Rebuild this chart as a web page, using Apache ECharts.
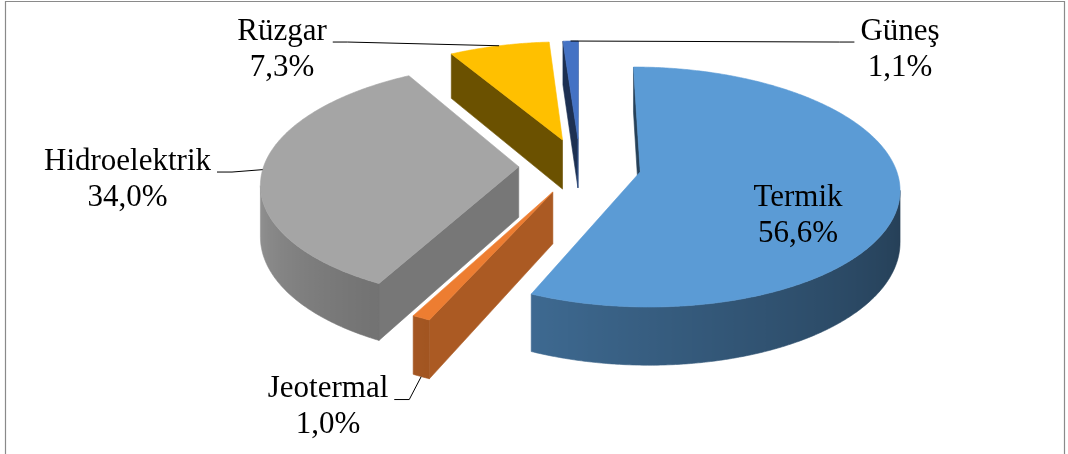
<!DOCTYPE html>
<html>
<head>
<meta charset="utf-8">
<script src="https://cdn.jsdelivr.net/npm/echarts@6/dist/echarts.min.js"></script>
<style>
html,body{margin:0;padding:0;background:#ffffff;}
#chart{width:1068px;height:454px;}
</style>
</head>
<body>
<div id="chart"></div>
<script>
// ---- data ----
const categories = ['Termik', 'Jeotermal', 'Hidroelektrik', 'Rüzgar', 'Güneş'];
const shares = [56.6, 1.0, 34.0, 7.3, 1.1];

// ---- styles / layout ----
const sliceColors = ['#5B9BD5', '#ED7D31', '#A5A5A5', '#FFC000', '#4472C4'];
const view = { cx: 580, cy: 166, rx: 255, ry: 116.6, persp: 0.126, explode: 0.24, depth: 50.5 };
const labelLayout = [
  { inside: true, x: 798, y: 216 },
  { x: 328, y: 407 },
  { x: 127.5, y: 179.5 },
  { x: 282, y: 49.5 },
  { x: 900, y: 49.5 }
];
const font = { family: '"Liberation Serif", "Times New Roman", serif', size: 31, lineHeight: 36 };

function fmtPct(v) { return v.toFixed(1).replace('.', ',') + '%'; }
function shade(hex, k) {
  const n = parseInt(hex.slice(1), 16);
  const r = (n >> 16) & 255, g = (n >> 8) & 255, b = n & 255;
  return 'rgb(' + Math.round(r * k) + ',' + Math.round(g * k) + ',' + Math.round(b * k) + ')';
}
function proj(u, v, h) {
  const f = 1 / (1 - view.persp * v);
  return [view.cx + view.rx * u * f, view.cy + (view.ry * v + h) * f];
}
function curvedShade(t) {
  let deg = (t * 180 / Math.PI) % 360; if (deg < 0) deg += 360;
  const s = Math.min(1, Math.max(0, (deg - 95) / 175));
  return 0.40 + 0.52 * Math.pow(s, 1.3);
}
const measureCtx = document.createElement('canvas').getContext('2d');
function textWidth(str) {
  measureCtx.font = font.size + 'px ' + font.family;
  return measureCtx.measureText(str).width;
}

// slice angles (clockwise from 12 o'clock) from the shares
const total = shares.reduce((a, b) => a + b, 0);
const geo = [];
let acc = 0;
shares.forEach(function (s) {
  const a0 = acc / total * 2 * Math.PI; acc += s;
  const a1 = acc / total * 2 * Math.PI;
  const mid = (a0 + a1) / 2;
  geo.push({ a0: a0, a1: a1, mid: mid, ou: view.explode * Math.sin(mid), ov: -view.explode * Math.cos(mid) });
});
const order = geo.map((g, i) => i).sort((a, b) => geo[a].ov - geo[b].ov);
const rank = []; order.forEach((idx, r) => { rank[idx] = r; });

function renderItem(params, api) {
  const i = params.dataIndex;
  const g = geo[i];
  const H = view.depth;
  const base = sliceColors[i];
  const z0 = rank[i] * 10;
  const rim = (t, h) => proj(g.ou + Math.sin(t), g.ov - Math.cos(t), h);
  const apex = (h) => proj(g.ou, g.ov, h);
  const children = [];

  // radial walls
  const inside = proj(g.ou + 0.5 * Math.sin(g.mid), g.ov - 0.5 * Math.cos(g.mid), 0);
  [[g.a0, -1], [g.a1, 1]].forEach(function (w) {
    const t = w[0], s = w[1];
    const A = apex(0), B = rim(t, 0), Bb = rim(t, H), Ab = apex(H);
    const Mb = proj(g.ou + 0.5 * Math.sin(t), g.ov - 0.5 * Math.cos(t), H);
    const cr = (P) => (B[0] - A[0]) * (P[1] - A[1]) - (B[1] - A[1]) * (P[0] - A[0]);
    if (cr(inside) * cr(Mb) < 0) {
      const normal = t + s * Math.PI / 2;
      const k = Math.sin(normal) > 0 ? 0.72 : 0.42;
      const c = shade(base, k);
      children.push({ type: 'polygon', shape: { points: [A, B, Bb, Ab] },
        style: { fill: c, stroke: c, lineWidth: 0.6, lineJoin: 'round' }, z2: z0 + 1 });
    }
  });

  // curved outer wall (front-facing parts)
  const N = Math.max(2, Math.ceil((g.a1 - g.a0) / (Math.PI / 360)));
  const ts = [], tops = [];
  for (let k = 0; k <= N; k++) { const t = g.a0 + (g.a1 - g.a0) * k / N; ts.push(t); tops.push(rim(t, 0)); }
  const runs = []; let run = null;
  for (let k = 0; k < N; k++) {
    if (tops[k + 1][0] < tops[k][0]) {
      if (!run) { run = [k]; runs.push(run); }
      run.push(k + 1);
    } else run = null;
  }
  runs.forEach(function (r) {
    const top = r.map(k => tops[k]);
    const bottom = r.map(k => rim(ts[k], H)).reverse();
    const xmax = tops[r[0]][0], xmin = tops[r[r.length - 1]][0];
    let fill;
    if (xmax - xmin < 1) fill = shade(base, curvedShade(ts[r[0]]));
    else {
      const stops = r.slice().reverse().map(k => ({ offset: (tops[k][0] - xmin) / (xmax - xmin), color: shade(base, curvedShade(ts[k])) }));
      fill = { type: 'linear', x: xmin, y: 0, x2: xmax, y2: 0, global: true, colorStops: stops };
    }
    children.push({ type: 'polygon', shape: { points: top.concat(bottom) },
      style: { fill: fill, stroke: fill, lineWidth: 0.6, lineJoin: 'round' }, z2: z0 + 2 });
  });

  // top face
  children.push({ type: 'polygon', shape: { points: [apex(0)].concat(tops) },
    style: { fill: base, stroke: base, lineWidth: 0.6, lineJoin: 'round' }, z2: z0 + 3 });

  // label
  const L = labelLayout[i];
  const txt = categories[i] + '\n' + fmtPct(api.value(0));
  children.push({ type: 'text', z2: 200,
    style: { text: txt, x: L.x, y: L.y, fill: '#000', fontFamily: font.family, fontSize: font.size,
      lineHeight: font.lineHeight, align: 'center', verticalAlign: 'middle' } });
  if (!L.inside) {
    const front = -Math.cos(g.mid) > 0.5;
    const anc = rim(g.mid, front ? H : 0);
    const w = textWidth(categories[i]);
    const by = L.y - font.lineHeight / 2 + font.size * 0.34;
    const left = L.x < anc[0];
    const ax = left ? L.x + w / 2 + 6 : L.x - w / 2 - 6;
    const ex = left ? ax + 15 : ax - 15;
    children.push({ type: 'polyline', z2: 150,
      shape: { points: [[ax, by], [ex, by], anc] },
      style: { stroke: '#000', lineWidth: 1, fill: null } });
  }
  return { type: 'group', children: children };
}

const chart = echarts.init(document.getElementById('chart'), null, { renderer: 'canvas' });
chart.setOption({
  backgroundColor: '#ffffff',
  animation: false,
  graphic: [{ type: 'rect', shape: { x: 5.5, y: 1.5, width: 1059, height: 470 },
    style: { fill: null, stroke: '#8a8a8a', lineWidth: 1.2 }, z: 0 }],
  series: [{
    type: 'custom',
    coordinateSystem: 'none',
    silent: true,
    renderItem: renderItem,
    data: shares.map((v, i) => ({ name: categories[i], value: v }))
  }]
});
</script>
</body>
</html>
